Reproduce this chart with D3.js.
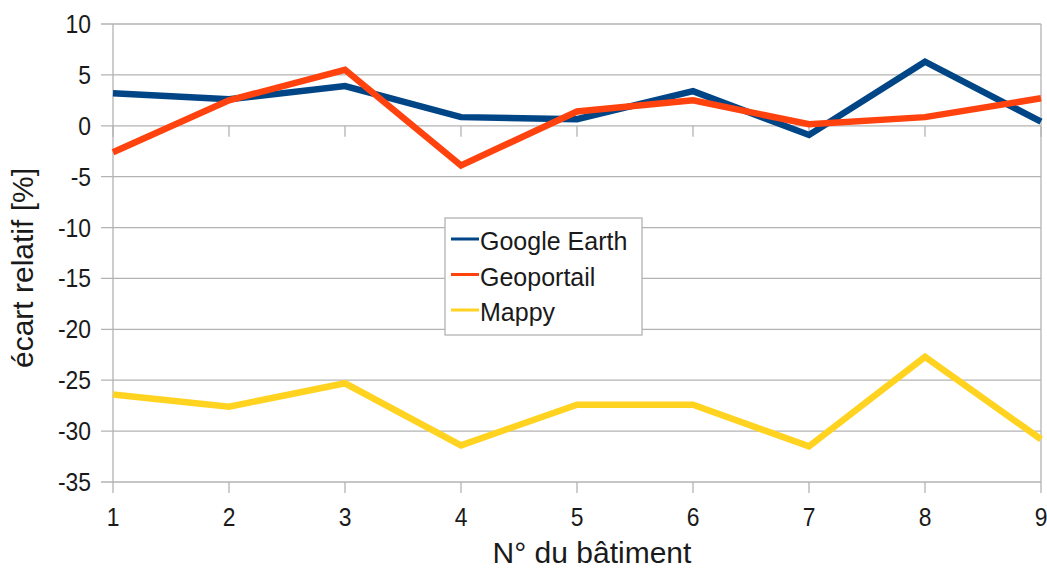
<!DOCTYPE html>
<html>
<head>
<meta charset="utf-8">
<script src="https://cdn.jsdelivr.net/npm/d3@7"></script>
<style>
  html, body { margin: 0; padding: 0; background: #fff; }
  svg { display: block; font-family: "Liberation Sans", Arial, sans-serif; }
</style>
</head>
<body>
<svg id="chart" width="1047" height="570"></svg>
<script>
const buildings = [1, 2, 3, 4, 5, 6, 7, 8, 9];
const seriesNames = ["Google Earth", "Geoportail", "Mappy"];
const googleEarth = [3.2, 2.6, 3.9, 0.85, 0.65, 3.4, -0.9, 6.3, 0.4];
const geoportail = [-2.6, 2.5, 5.5, -3.9, 1.4, 2.5, 0.15, 0.85, 2.7];
const mappy = [-26.4, -27.6, -25.3, -31.4, -27.4, -27.4, -31.5, -22.7, -30.8];
const yTicks = [10, 5, 0, -5, -10, -15, -20, -25, -30, -35];
const colors = ["#004586", "#ff420e", "#ffd320"];

(function () {
const svg = d3.select("#chart");
const pLeft = 113, pRight = 1041, pTop = 24, pBottom = 482;
const x = d3.scaleLinear().domain([1, 9]).range([pLeft, pRight]);
const y = d3.scaleLinear().domain([-35, 10]).range([pBottom, pTop]);
const grid = "#b3b3b3";
const ink = "#1a1a1a";

// horizontal gridlines
svg.append("g").selectAll("line").data(yTicks).join("line")
  .attr("x1", pLeft - 12).attr("x2", pRight)
  .attr("y1", d => y(d)).attr("y2", d => y(d))
  .attr("stroke", grid).attr("stroke-width", 1.3);

// left axis & right border
svg.append("line").attr("x1", pLeft).attr("x2", pLeft).attr("y1", pTop).attr("y2", pBottom)
  .attr("stroke", grid).attr("stroke-width", 1.3);
svg.append("line").attr("x1", pRight).attr("x2", pRight).attr("y1", pTop).attr("y2", pBottom)
  .attr("stroke", grid).attr("stroke-width", 1.3);

// x ticks at y=0 and at bottom
svg.append("g").selectAll("line").data(buildings).join("line")
  .attr("x1", d => x(d)).attr("x2", d => x(d))
  .attr("y1", y(0)).attr("y2", y(0) + 11)
  .attr("stroke", grid).attr("stroke-width", 1.3);
svg.append("g").selectAll("line").data(buildings).join("line")
  .attr("x1", d => x(d)).attr("x2", d => x(d))
  .attr("y1", pBottom).attr("y2", pBottom + 11)
  .attr("stroke", grid).attr("stroke-width", 1.3);

// y tick labels (slightly condensed like the reference)
svg.append("g").selectAll("text").data(yTicks).join("text")
  .attr("transform", d => `translate(${pLeft - 22},${y(d) + 9}) scale(0.88,1)`)
  .attr("text-anchor", "end")
  .attr("font-size", 26).attr("fill", ink)
  .text(d => d);

// x tick labels
svg.append("g").selectAll("text").data(buildings).join("text")
  .attr("transform", d => `translate(${x(d)},526) scale(0.88,1)`)
  .attr("text-anchor", "middle")
  .attr("font-size", 26).attr("fill", ink)
  .text(d => d);

// axis titles
svg.append("text").attr("x", 592).attr("y", 563)
  .attr("text-anchor", "middle").attr("font-size", 30).attr("fill", ink)
  .text("N° du bâtiment");
svg.append("text").attr("transform", "translate(33,268) rotate(-90)")
  .attr("text-anchor", "middle").attr("font-size", 30).attr("fill", ink)
  .text("écart relatif [%]");

// lines
const data = [googleEarth, geoportail, mappy];
const line = d3.line().x((d, i) => x(buildings[i])).y(d => y(d));
data.forEach((vals, k) => {
  svg.append("path").datum(vals)
    .attr("d", line)
    .attr("fill", "none").attr("stroke", colors[k]).attr("stroke-width", 6.5)
    .attr("stroke-linejoin", "miter").attr("stroke-linecap", "butt");
});

// legend
const lg = svg.append("g").attr("transform", "translate(445,218)");
lg.append("rect").attr("x", 0).attr("y", 0).attr("width", 197).attr("height", 117)
  .attr("fill", "#fff").attr("stroke", grid).attr("stroke-width", 1.3);
seriesNames.forEach((n, i) => {
  const cy = 21 + i * 35.5;
  lg.append("line").attr("x1", 6).attr("x2", 34).attr("y1", cy).attr("y2", cy)
    .attr("stroke", colors[i]).attr("stroke-width", 3);
  lg.append("text").attr("x", 35).attr("y", cy + 11)
    .attr("font-size", 25).attr("fill", ink).text(n);
});
})();
</script>
</body>
</html>
